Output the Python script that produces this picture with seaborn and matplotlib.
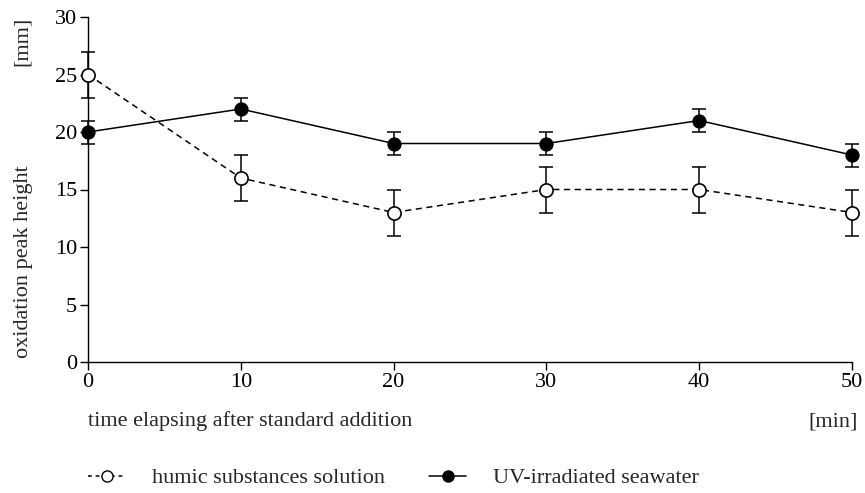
import matplotlib
matplotlib.use("Agg")
import matplotlib.pyplot as plt
import seaborn as sns
import pandas as pd
from matplotlib.lines import Line2D

time_min = [0, 10, 20, 30, 40, 50]
humic_mean = [25, 16, 13, 15, 15, 13]
humic_err = [2, 2, 2, 2, 2, 2]
uv_mean = [20, 22, 19, 19, 21, 18]
uv_err = [1, 1, 1, 1, 1, 1]
y_ticks = [0, 5, 10, 15, 20, 25, 30]
x_ticks = [0, 10, 20, 30, 40, 50]
series_names = ["humic substances solution", "UV-irradiated seawater"]

sns.set_theme(style="ticks")
plt.rcParams['font.family'] = ['Liberation Serif', 'DejaVu Serif']
FS = 16

W, H = 865, 493
fig = plt.figure(figsize=(W / 100, H / 100), dpi=100)
x0, x1, y0, y1 = 88, 852, 362, 17
ax = fig.add_axes([x0 / W, 1 - y0 / H, (x1 - x0) / W, (y0 - y1) / H])

df = pd.DataFrame({
    "time": time_min * 2,
    "value": humic_mean + uv_mean,
    "series": [series_names[0]] * 6 + [series_names[1]] * 6,
})

for m, e in [(humic_mean, humic_err), (uv_mean, uv_err)]:
    ax.errorbar(time_min, m, yerr=e, fmt="none", ecolor="black",
                elinewidth=1.1, capsize=5, capthick=1.1, zorder=2)

sns.lineplot(data=df[df.series == series_names[0]], x="time", y="value",
             ax=ax, color="black", linestyle=(0, (4, 3)), linewidth=1.1,
             marker="o", markersize=9.5, markerfacecolor="white",
             markeredgecolor="black", markeredgewidth=1.2, zorder=3)
sns.lineplot(data=df[df.series == series_names[1]], x="time", y="value",
             ax=ax, color="black", linestyle="-", linewidth=1.1,
             marker="o", markersize=9.5, markerfacecolor="black",
             markeredgecolor="black", zorder=3)

ax.set_xlim(0, 50)
ax.set_ylim(0, 30)
ax.set_xticks(x_ticks)
ax.set_yticks(y_ticks)
ax.set_xlabel("")
ax.set_ylabel("")
for s in ["top", "right"]:
    ax.spines[s].set_visible(False)
for s in ["left", "bottom"]:
    ax.spines[s].set_linewidth(1.0)
    ax.spines[s].set_color("black")
ax.tick_params(axis="both", direction="out", length=6, width=1.0, colors="black",
               labelsize=FS, pad=2)
for ln in ax.lines:
    ln.set_clip_on(False)
for c in ax.collections:
    c.set_clip_on(False)

fig.text(24 / W, 1 - 262 / H, "oxidation peak height", rotation=90,
         ha="center", va="center", fontsize=FS)
fig.text(22 / W, 1 - 41 / H, "[mm]", rotation=90, ha="center", va="center", fontsize=FS)
fig.text(88 / W, 1 - 426 / H, "time elapsing after standard addition",
         ha="left", va="baseline", fontsize=FS)
fig.text(858 / W, 1 - 426 / H, "[min]", ha="right", va="baseline", fontsize=FS)

handles = [
    Line2D([], [], color="black", linestyle=(0, (2.5, 2.5)), linewidth=1.1, marker="o",
           markersize=8, markerfacecolor="white", markeredgecolor="black"),
    Line2D([], [], color="black", linestyle="-", linewidth=1.1, marker="o",
           markersize=8, markerfacecolor="black", markeredgecolor="black"),
]
fig.legend(handles, series_names, loc="center left",
           bbox_to_anchor=(88 / W, 1 - 478 / H), ncol=2, frameon=False,
           fontsize=FS, handlelength=1.67, handletextpad=1.2, columnspacing=2.0,
           borderpad=0, borderaxespad=0)

fig.savefig("out.png", dpi=100)
